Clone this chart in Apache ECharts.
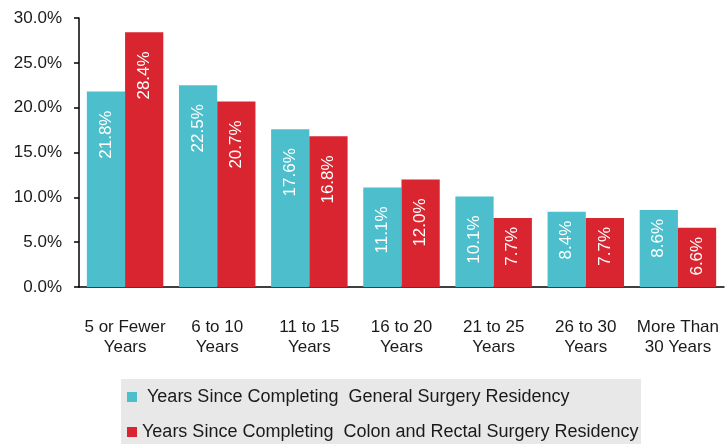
<!DOCTYPE html>
<html>
<head>
<meta charset="utf-8">
<script src="https://cdn.jsdelivr.net/npm/echarts@6/dist/echarts.min.js"></script>
<style>
  html, body { margin: 0; padding: 0; background: #fff; }
  #chart { width: 728px; height: 444px; }
</style>
</head>
<body>
<div id="chart"></div>
<script>
// data
var categories = ['5 or Fewer\nYears', '6 to 10\nYears', '11 to 15\nYears', '16 to 20\nYears',
                  '21 to 25\nYears', '26 to 30\nYears', 'More Than\n30 Years'];
var generalSurgery = [21.8, 22.5, 17.6, 11.1, 10.1, 8.4, 8.6];
var colonRectal = [28.4, 20.7, 16.8, 12.0, 7.7, 7.7, 6.6];
var seriesNames = [' Years Since Completing  General Surgery Residency',
                   'Years Since Completing  Colon and Rectal Surgery Residency'];

var myChart = echarts.init(document.getElementById('chart'));

function fmt(v) { return v.toFixed(1) + '%'; }

// shorter labels sit closer to the bar end, like in the original
function withLabels(values) {
    return values.map(function (v) {
        return { value: v, label: { distance: fmt(v).length > 4 ? 19 : 9 } };
    });
}

var barLabel = {
    show: true,
    position: 'insideTop',
    rotate: 90,
    align: 'right',
    verticalAlign: 'middle',
    color: '#fff',
    fontSize: 17,
    fontFamily: 'Arial, Liberation Sans, sans-serif',
    formatter: function (p) { return fmt(p.value); }
};

var legendText = { fontSize: 18, color: '#1a1a1a' };

var option = {
    backgroundColor: '#fff',
    animation: false,
    textStyle: { fontFamily: 'Arial, Liberation Sans, sans-serif' },
    grid: { left: 79, right: 4, top: 18, bottom: 157 },
    graphic: [{
        type: 'rect',
        shape: { x: 121, y: 379, width: 520, height: 70 },
        style: { fill: '#e8e8e8' },
        z: -1
    }],
    legend: [
        {
            left: 127, top: 388, padding: 0,
            itemWidth: 10, itemHeight: 10, icon: 'rect',
            textStyle: legendText,
            data: [seriesNames[0]]
        },
        {
            left: 127, top: 423, padding: 0,
            itemWidth: 10, itemHeight: 10, icon: 'rect',
            textStyle: legendText,
            data: [seriesNames[1]]
        }
    ],
    xAxis: {
        type: 'category',
        data: categories,
        axisLine: { lineStyle: { color: '#000', width: 1.5 } },
        axisTick: { length: 5, lineStyle: { color: '#000', width: 1.5 } },
        axisLabel: { margin: 30, fontSize: 17, lineHeight: 20, color: '#1a1a1a', interval: 0 }
    },
    yAxis: {
        type: 'value',
        min: 0,
        max: 30,
        interval: 5,
        splitLine: { show: false },
        axisLine: { show: true, lineStyle: { color: '#000', width: 1.5 } },
        axisTick: { show: true, length: 5, lineStyle: { color: '#000', width: 1.5 } },
        axisLabel: { margin: 17, fontSize: 17, color: '#1a1a1a', formatter: fmt }
    },
    series: [
        {
            name: seriesNames[0],
            type: 'bar',
            data: withLabels(generalSurgery),
            barGap: '0%',
            barCategoryGap: '17%',
            itemStyle: { color: '#4dbfcc' },
            label: barLabel
        },
        {
            name: seriesNames[1],
            type: 'bar',
            data: withLabels(colonRectal),
            itemStyle: { color: '#d9252f' },
            label: barLabel
        }
    ]
};

myChart.setOption(option);
</script>
</body>
</html>
